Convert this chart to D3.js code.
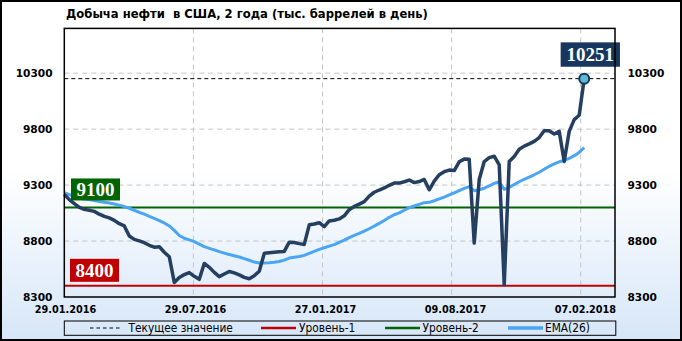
<!DOCTYPE html>
<html><head><meta charset="utf-8">
<script src="https://cdn.jsdelivr.net/npm/d3@7"></script>
<style>body{margin:0;background:#fff;} svg{display:block;}</style>
</head><body>
<svg id="c" width="682" height="341"></svg>
<script>
const title = "Добыча нефти  в США, 2 года (тыс. баррелей в день)";
const xLabels = ["29.01.2016","29.07.2016","27.01.2017","09.08.2017","07.02.2018"];
const xLabelIndex = [0, 26, 52, 78, 104];
const yTicks = [8300, 8800, 9300, 9800, 10300];
const production = [
  9215, 9170, 9135, 9100, 9083, 9075, 9065, 9040, 9020, 9007,
  8985, 8955, 8935, 8845, 8815, 8802, 8785, 8762, 8745, 8750,
  8700, 8660, 8430, 8475, 8500, 8518, 8485, 8458, 8600, 8565,
  8520, 8482, 8505, 8528, 8515, 8498, 8475, 8463, 8490, 8530,
  8690, 8695, 8700, 8705, 8707, 8790, 8787, 8777, 8770, 8945,
  8952, 8964, 8928, 8980, 8986, 8998, 9025, 9080, 9110, 9130,
  9152, 9202, 9236, 9256, 9274, 9298, 9318, 9318, 9330, 9345,
  9322, 9332, 9350, 9258, 9335, 9392, 9420, 9434, 9430, 9508,
  9532, 9530, 8782, 9350, 9510, 9545, 9558, 9480, 8410, 9510,
  9556, 9620, 9648, 9668, 9690, 9725, 9785, 9785, 9757, 9780,
  9510, 9780, 9885, 9924, 10251
];
const ema26 = [
  9232, 9215, 9197, 9185, 9176, 9170, 9162, 9153, 9146, 9139,
  9131, 9120, 9108, 9093, 9075, 9057, 9040, 9021, 9002, 8983,
  8962, 8935, 8895, 8850, 8825, 8810, 8795, 8772, 8750, 8735,
  8721, 8705, 8692, 8680, 8668, 8657, 8643, 8628, 8612, 8604,
  8603, 8605, 8610, 8617, 8630, 8648, 8655, 8662, 8672, 8690,
  8708, 8726, 8740, 8755, 8768, 8788, 8808, 8830, 8850, 8868,
  8888, 8910, 8933, 8958, 8983, 9012, 9035, 9052, 9075, 9098,
  9113, 9128, 9143, 9146, 9160, 9177, 9193, 9212, 9230, 9250,
  9270, 9287, 9250, 9258, 9272, 9292, 9315, 9330, 9262, 9280,
  9305, 9330, 9352, 9372, 9392, 9415, 9442, 9468, 9490, 9508,
  9520, 9538, 9563, 9592, 9636
];
const level1 = 8400;
const level2 = 9100;
const currentValue = 10251;
const legendLabels = ["Текущее значение", "Уровень-1", "Уровень-2", "EMA(26)"];

const W = 682, H = 341;
const L = 64.3, R = 615, T = 28.4, B = 297;
const svg = d3.select("#c");

const defs = svg.append("defs");
const grad = defs.append("linearGradient").attr("id","bg").attr("x1",0).attr("y1",0).attr("x2",0).attr("y2",1);
grad.append("stop").attr("offset","0").attr("stop-color","#ffffff");
grad.append("stop").attr("offset","0.5").attr("stop-color","#ffffff");
grad.append("stop").attr("offset","1").attr("stop-color","#d6e6f8");
svg.append("rect").attr("x",0).attr("y",0).attr("width",W).attr("height",H).attr("fill","url(#bg)");

const x = d3.scaleLinear().domain([0, production.length - 1]).range([L, 584.2]);
const gridX = d3.scaleLinear().domain([0, xLabels.length - 1]).range([L, 580.7]);
const y = d3.scaleLinear().domain([8300, 10700]).range([B, T]);

// title
svg.append("text").attr("x",66).attr("y",17.5)
  .style("white-space","pre")
  .attr("font-family","DejaVu Sans").attr("font-weight","bold").attr("font-size",11.6)
  .attr("fill","#000").text(title);

// grid
const g = svg.append("g");
g.selectAll(".hg").data(yTicks.slice(1)).enter().append("line")
  .attr("x1",L).attr("x2",R).attr("y1",d=>y(d)).attr("y2",d=>y(d))
  .attr("stroke","#c4c4c4").attr("stroke-width",1).attr("stroke-dasharray","5,4");
g.selectAll(".vg").data(d3.range(1, xLabels.length)).enter().append("line")
  .attr("x1",d=>gridX(d)).attr("x2",d=>gridX(d)).attr("y1",T).attr("y2",B)
  .attr("stroke","#c4c4c4").attr("stroke-width",1).attr("stroke-dasharray","5,4");

// levels
g.append("line").attr("x1",L).attr("x2",R).attr("y1",y(level2)).attr("y2",y(level2))
  .attr("stroke","#006400").attr("stroke-width",2);
g.append("line").attr("x1",L).attr("x2",R).attr("y1",y(level1)).attr("y2",y(level1))
  .attr("stroke","#c00000").attr("stroke-width",2);
// current value line
g.append("line").attr("x1",L).attr("x2",R).attr("y1",y(currentValue)).attr("y2",y(currentValue))
  .attr("stroke","#000").attr("stroke-width",1).attr("stroke-dasharray","4,3");

// EMA
const line = d3.line().x((d,i)=>x(i)).y(d=>y(d));
g.append("path").attr("d", line(ema26)).attr("fill","none")
  .attr("stroke","#4aa5f5").attr("stroke-width",3).attr("stroke-linejoin","round");
// production
g.append("path").attr("d", line(production)).attr("fill","none")
  .attr("stroke","#253f60").attr("stroke-width",3.5).attr("stroke-linejoin","round");

// marker
const li = production.length - 1;
g.append("circle").attr("cx",x(li)).attr("cy",y(production[li])).attr("r",5)
  .attr("fill","#5bb8d8").attr("stroke","#17365d").attr("stroke-width",2);

// level label boxes
function labelBox(cx, yTop, w, h, fill, txt){
  svg.append("rect").attr("x",cx - w/2).attr("y",yTop).attr("width",w).attr("height",h).attr("fill",fill);
  svg.append("text").attr("x",cx).attr("y",yTop + h/2 + 6.5).attr("text-anchor","middle")
    .attr("font-family","Liberation Serif").attr("font-weight","bold").attr("font-size",19)
    .attr("fill","#fff").text(txt);
}
labelBox(95.5, y(level2) - 29, 49, 22, "#006400", String(level2));
labelBox(94.5, y(level1) - 27, 49, 23, "#c00000", String(level1));
labelBox(590.3, y(currentValue) - 36.3, 59.3, 24.4, "#17375e", String(currentValue));

// plot border
svg.append("rect").attr("x",L).attr("y",T).attr("width",R-L).attr("height",B-T)
  .attr("fill","none").attr("stroke","#000").attr("stroke-width",1.5);

// y labels
const fmt = d => String(d);
svg.selectAll(".yl").data(yTicks).enter().append("text")
  .attr("x",52.5).attr("y",d=>y(d)+4).attr("text-anchor","end")
  .attr("font-family","DejaVu Sans").attr("font-weight","bold").attr("font-size",10.6)
  .text(fmt);
svg.selectAll(".yr").data(yTicks).enter().append("text")
  .attr("x",627.5).attr("y",d=>y(d)+4).attr("text-anchor","start")
  .attr("font-family","DejaVu Sans").attr("font-weight","bold").attr("font-size",10.6)
  .text(fmt);

// x labels
svg.selectAll(".xl").data(xLabels).enter().append("text")
  .attr("x",(d,i)=>x(xLabelIndex[i]) + 1.2).attr("y",313.3).attr("text-anchor","middle")
  .attr("font-family","DejaVu Sans Condensed, DejaVu Sans").attr("font-stretch","condensed")
  .attr("font-weight","bold").attr("font-size",10.8)
  .text(d=>d);

// legend
svg.append("rect").attr("x",64.3).attr("y",321).attr("width",551.5).attr("height",14.3)
  .attr("fill","none").attr("stroke","#000").attr("stroke-width",1);
const legendItems = [
  {x1:90, x2:122, tx:128.5, stroke:"#000", w:1, dash:"3.5,3"},
  {x1:261, x2:296, tx:299, stroke:"#c00000", w:2.5, dash:null},
  {x1:385, x2:420, tx:422.5, stroke:"#006400", w:2.5, dash:null},
  {x1:508, x2:543, tx:545, stroke:"#4aa5f5", w:3.5, dash:null}
];
legendItems.forEach((it,i)=>{
  const ln = svg.append("line").attr("x1",it.x1).attr("x2",it.x2).attr("y1",328).attr("y2",328)
    .attr("stroke",it.stroke).attr("stroke-width",it.w);
  if (it.dash) ln.attr("stroke-dasharray",it.dash);
  svg.append("text").attr("x",it.tx).attr("y",332.3)
    .attr("font-family","DejaVu Sans Condensed, DejaVu Sans").attr("font-stretch","condensed")
    .attr("font-size",11.8).text(legendLabels[i]);
});

// outer border
svg.append("rect").attr("x",1).attr("y",1).attr("width",W-2).attr("height",H-2)
  .attr("fill","none").attr("stroke","#000").attr("stroke-width",2);
</script>
</body></html>
